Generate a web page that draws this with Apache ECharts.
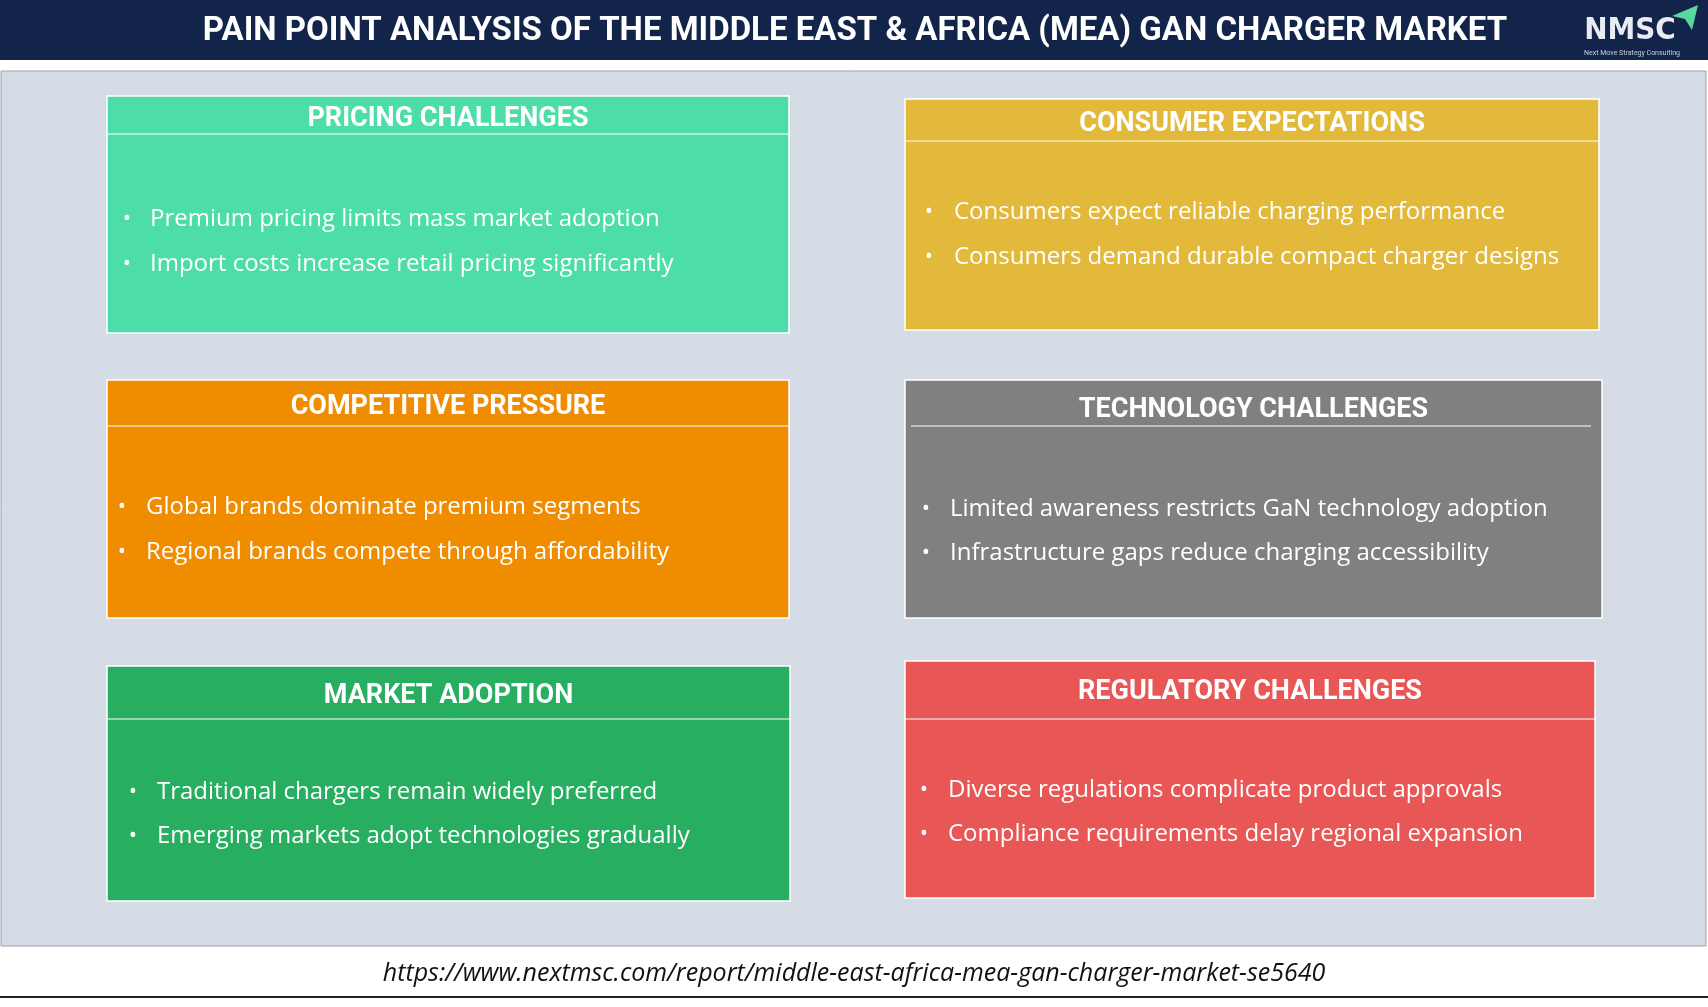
<!DOCTYPE html>
<html><head><meta charset="utf-8">
<script src="https://cdn.jsdelivr.net/npm/echarts@6/dist/echarts.min.js"></script>
<style>html,body{margin:0;padding:0;background:#fff}#c{width:1708px;height:1007px}</style>
</head><body><div id="c"></div>
<script>
const titles = ["PRICING CHALLENGES","CONSUMER EXPECTATIONS","COMPETITIVE PRESSURE","TECHNOLOGY CHALLENGES","MARKET ADOPTION","REGULATORY CHALLENGES"];
const bullets = [
 ["Premium pricing limits mass market adoption","Import costs increase retail pricing significantly"],
 ["Consumers expect reliable charging performance","Consumers demand durable compact charger designs"],
 ["Global brands dominate premium segments","Regional brands compete through affordability"],
 ["Limited awareness restricts GaN technology adoption","Infrastructure gaps reduce charging accessibility"],
 ["Traditional chargers remain widely preferred","Emerging markets adopt technologies gradually"],
 ["Diverse regulations complicate product approvals","Compliance requirements delay regional expansion"]
];
const colors = ["#4ddda8","#e3b93b","#f08c00","#808080","#27ae60","#e85656"];
// layout: [x, y, w, h, headerLineY, titleY, bulletY1, bulletY2, bulletX, textX]
const boxes = [
 [107,96,682,237,134,119,219,264,127,150],
 [905,99,694,231,141,124,212,257,929,954],
 [107,380,682,238,426,407,507,552,122,146],
 [905,380,697,238,426,410,509,553,926,950],
 [107,666,683,235,719,696,792,836,133,157],
 [905,661,690,237,719,692,790,834,924,948]
];
const g = [];
g.push({type:'rect',shape:{x:0,y:0,width:1708,height:60},style:{fill:'#13244a'}});
g.push({type:'text',x:855,y:32,style:{text:'PAIN POINT ANALYSIS OF THE MIDDLE EAST & AFRICA (MEA) GAN CHARGER MARKET',fill:'#fff',font:'bold 33px Roboto, Arial, sans-serif',textAlign:'center',textVerticalAlign:'middle'}});
g.push({type:'text',x:1630,y:31,style:{text:'NMSC',fill:'#e8ecf2',font:'bold 31px "DejaVu Sans Condensed", "DejaVu Sans", sans-serif',textAlign:'center',textVerticalAlign:'middle'}});
g.push({type:'text',x:1632,y:53,style:{text:'Next Move Strategy Consulting',fill:'#c8d0dc',font:'7px Roboto, sans-serif',textAlign:'center',textVerticalAlign:'middle'}});
g.push({type:'polygon',shape:{points:[[1672,16],[1698,5],[1692,30],[1685,19]]},style:{fill:'#5ad6a0'}});
g.push({type:'rect',shape:{x:1,y:71,width:1705,height:875},style:{fill:'#d5dce6',stroke:'#9aa3ad',lineWidth:1}});
g.push({type:'text',x:854,y:974,style:{text:'https://www.nextmsc.com/report/middle-east-africa-mea-gan-charger-market-se5640',fill:'#111',font:'italic 25px "Open Sans", sans-serif',textAlign:'center',textVerticalAlign:'middle'}});
g.push({type:'line',shape:{x1:0,y1:997,x2:1708,y2:997},style:{stroke:'#222',lineWidth:2}});
boxes.forEach((b,i)=>{
  g.push({type:'rect',shape:{x:b[0],y:b[1],width:b[2],height:b[3]},style:{fill:colors[i],stroke:'#ffffff',lineWidth:1.5}});
  const lx1 = i===3 ? b[0]+6 : b[0], lx2 = i===3 ? b[0]+b[2]-11 : b[0]+b[2];
  g.push({type:'line',shape:{x1:lx1,y1:b[4],x2:lx2,y2:b[4]},style:{stroke:'#ffffff',lineWidth:1}});
  g.push({type:'text',x:b[0]+b[2]/2,y:b[5],style:{text:titles[i],fill:'#fff',font:'bold 27px Roboto, Arial, sans-serif',textAlign:'center',textVerticalAlign:'middle'}});
  [b[6],b[7]].forEach((yy,j)=>{
    g.push({type:'text',x:b[8],y:yy,style:{text:'•',fill:'#fff',font:'22px "Open Sans", sans-serif',textAlign:'center',textVerticalAlign:'middle'}});
    g.push({type:'text',x:b[9],y:yy,style:{text:bullets[i][j],fill:'#fff',font:'24px "Open Sans", sans-serif',textAlign:'left',textVerticalAlign:'middle'}});
  });
});
const chart = echarts.init(document.getElementById('c'));
chart.setOption({animation:false,graphic:g});
</script></body></html>
